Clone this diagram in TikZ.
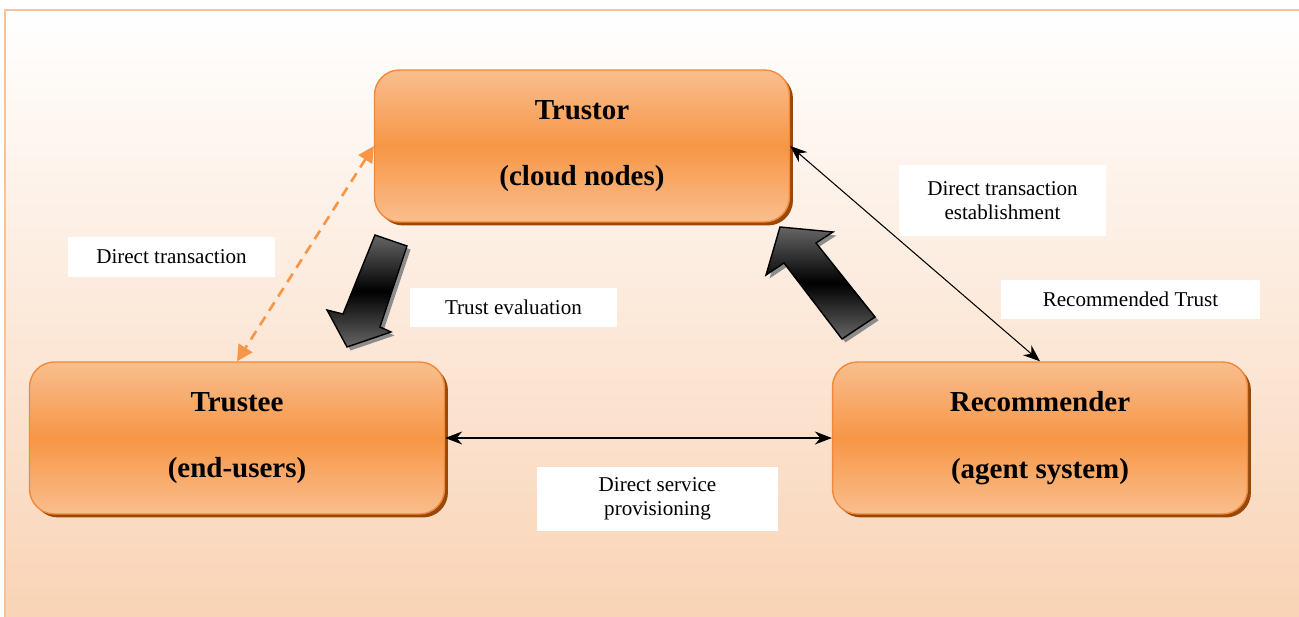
\documentclass[tikz,border=0pt]{standalone}
\usepackage{fontspec}
\setmainfont{Liberation Serif}
\usetikzlibrary{arrows.meta,shadows}

\definecolor{boxorange}{HTML}{F79646}
\definecolor{boxlight}{HTML}{F9BE8E}
\definecolor{boxedge}{HTML}{F2883A}
\definecolor{boxshadow}{HTML}{984807}
\definecolor{framepeach}{HTML}{F9D2B3}
\definecolor{frameedge}{HTML}{FBC196}

\begin{document}
\begin{tikzpicture}[x=0.02cm,y=-0.02cm,
party/.style={
rectangle,
rounded corners=0.5cm,
draw=boxedge,
thick,
top color=boxlight,
bottom color=boxlight,
middle color=boxorange,
minimum width=8.3cm,
minimum height=3.04cm,
align=center,
font=\fontsize{16.5}{38}\selectfont\bfseries,
drop shadow={shadow xshift=0.07cm,shadow yshift=-0.07cm,fill=boxshadow,opacity=1}
},
note/.style={
rectangle,
fill=white,
align=center,
font=\fontsize{12}{13.6}\selectfont
},
link/.style={{Stealth[length=3.4mm,width=2.6mm]}-{Stealth[length=3.4mm,width=2.6mm]},line width=0.6pt},
weak/.style={{Triangle[length=3.2mm,width=3.2mm]}-{Triangle[length=3.2mm,width=3.2mm]},boxorange,line width=1.5pt,dash pattern=on 0.2cm off 0.14cm},
bigarrow/.style={
draw=black,
thick,
top color=black!60,
bottom color=black!60,
middle color=black,
drop shadow={shadow xshift=0.07cm,shadow yshift=-0.07cm,fill=black!45,opacity=1}
}]

\useasboundingbox (0,0) rectangle (1299,617);
\shade[top color=white,bottom color=framepeach] (5,10) rectangle (1320,640);
\draw[frameedge,line width=0.055cm] (5,640) -- (5,10) -- (1320,10);

\node (trustor) [party] at (582,146) {Trustor\\(cloud nodes)};
\node (trustee) [party] at (237,438) {Trustee\\(end-users)};
\node (recommender) [party] at (1040,438) {Recommender\\(agent system)};

\draw[bigarrow] (375,235) -- (407,246) -- (380,327) -- (391,332) -- (347,347) -- (327,310) -- (343,314) -- cycle;
\draw[bigarrow] (780,227) -- (833,232) -- (816,243) -- (875,317) -- (842,339) -- (784,263) -- (766,275) -- cycle;

\node (transnote) [note,minimum width=4.14cm,minimum height=0.8cm] at (171.5,257) {Direct transaction};
\node (evalnote) [note,minimum width=4.14cm,minimum height=0.78cm] at (513.5,307.5) {Trust evaluation};
\node (estabnote) [note,minimum width=4.14cm,minimum height=1.42cm] at (1002.5,200.5) {Direct transaction\\establishment};
\node (recnote) [note,minimum width=5.18cm,minimum height=0.78cm] at (1130.5,299.5) {Recommended Trust};
\node (provnote) [note,minimum width=4.82cm,minimum height=1.28cm] at (657.5,499) {Direct service\\provisioning};

\draw[weak] (trustor.west) -- (trustee.north);
\draw[link] (trustor.east) -- (recommender.north);
\draw[link] (trustee.east) -- (recommender.west);
\end{tikzpicture}
\end{document}
